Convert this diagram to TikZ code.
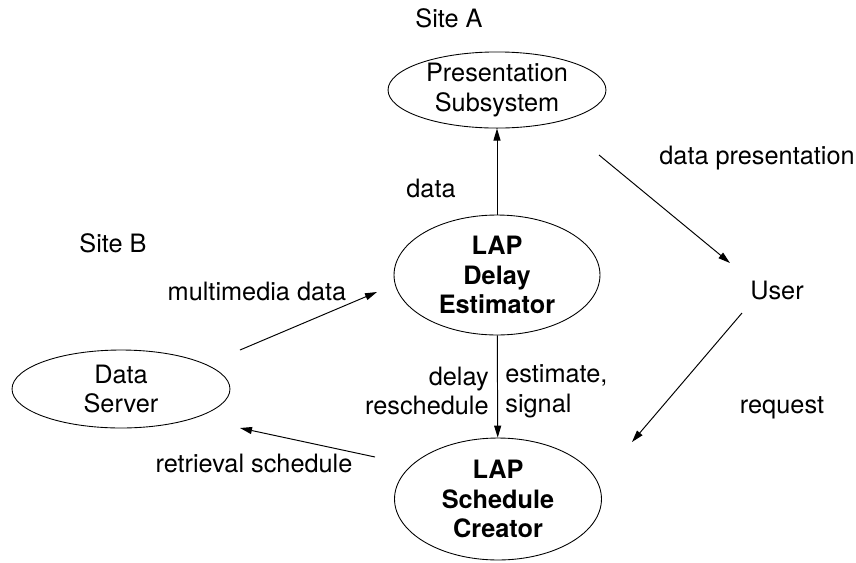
\documentclass[tikz,border=0pt]{standalone}
\usepackage{fontspec}
\setmainfont{TeX Gyre Heros}
\usepackage{tikz}
\usetikzlibrary{shapes.geometric, arrows.meta}
\tikzstyle{lap} = [ellipse, draw=black, line width=0.5pt, inner sep=0pt, align=center, font=\fontsize{14.4pt}{17pt}\selectfont]
\tikzstyle{label} = [inner sep=0pt, align=center, font=\fontsize{14.4pt}{17pt}\selectfont]
\tikzstyle{arrow} = [line width=0.55pt, -{Triangle[length=0.24cm, width=0.14cm]}]

\begin{document}
\begin{tikzpicture}[x=0.02cm, y=-0.02cm]

    \useasboundingbox (0,0) rectangle (856,562);

    \node (site_a) [label] at (449,18) {Site A};

    \node (presentation_subsystem) [lap, minimum width=4.36cm, minimum height=1.44cm] at (497,90) {Presentation\\Subsystem};

    \node (delay_estimator) [lap, minimum width=4.12cm, minimum height=2.4cm] at (497,275) {\bfseries LAP\\\bfseries Delay\\\bfseries Estimator};

    \node (schedule_creator) [lap, minimum width=4.14cm, minimum height=2.44cm] at (498,499) {\bfseries LAP\\\bfseries Schedule\\\bfseries Creator};

    \node (data_server) [lap, minimum width=4.36cm, minimum height=1.56cm] at (121,389) {Data\\Server};

    \node (site_b) [label] at (113,243) {Site B};

    \node (user) [label] at (777,290) {User};

    % edge labels
    \node (data_label) [label] at (431,188) {data};
    \node (multimedia_label) [label] at (257,291) {multimedia data};
    \node (retrieval_label) [label] at (254,463) {retrieval schedule};
    \node (presentation_label) [label] at (757,158) {data presentation};
    \node (request_label) [label] at (782,408) {request};
    \node (delay_label) [label, anchor=east, align=right] at (489,391) {delay\\reschedule};
    \node (estimate_label) [label, anchor=west, align=left] at (505,391) {estimate,\\signal};

    % free ends of the slanted arrows
    \coordinate (multimedia_start) at (240,350);
    \coordinate (multimedia_end) at (377,292);
    \coordinate (retrieval_start) at (375,457);
    \coordinate (retrieval_end) at (240,428);
    \coordinate (presentation_start) at (599,155);
    \coordinate (presentation_end) at (730,263);
    \coordinate (request_start) at (742,313);
    \coordinate (request_end) at (632,442);

    \draw [arrow] (delay_estimator) -- (presentation_subsystem);

    \draw [arrow] (delay_estimator) -- (schedule_creator);

    \draw [arrow] (multimedia_start) -- (multimedia_end);

    \draw [arrow] (retrieval_start) -- (retrieval_end);

    \draw [arrow] (presentation_start) -- (presentation_end);

    \draw [arrow] (request_start) -- (request_end);

\end{tikzpicture}
\end{document}
